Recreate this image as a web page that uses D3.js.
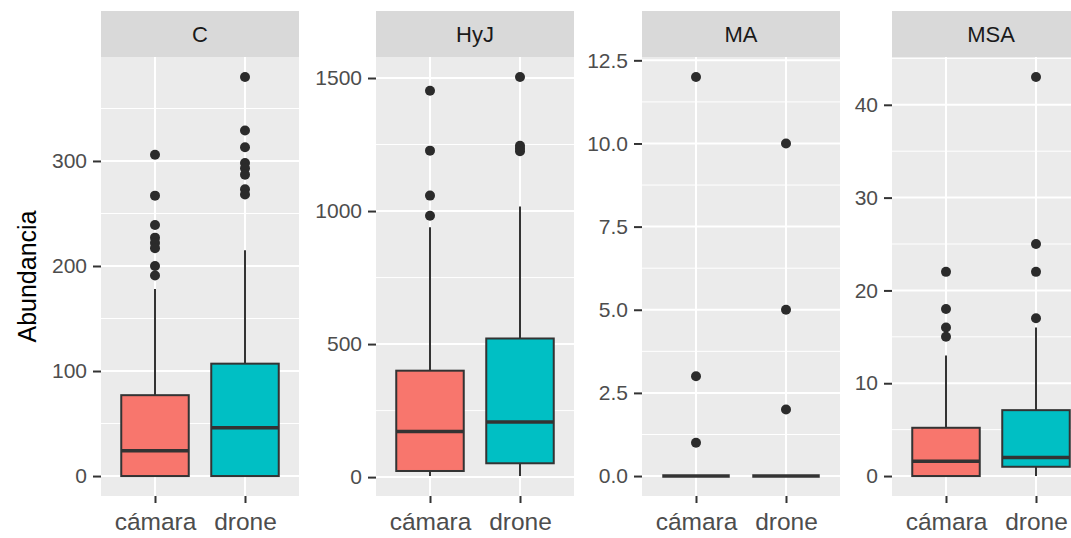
<!DOCTYPE html>
<html>
<head>
<meta charset="utf-8">
<script src="https://cdn.jsdelivr.net/npm/d3@7"></script>
<style>
  body { margin: 0; background: #fff; }
  text { font-family: "Liberation Sans", Arial, sans-serif; }
</style>
</head>
<body>
<div id="chart"></div>
<script>
// facets and groups
var facets = ["C", "HyJ", "MA", "MSA"];
var methods = ["cámara", "drone"];
var colors = ["#F8766D", "#00BFC4"];

// box stats per facet, [cámara, drone]
var lowerWhisker = [[0, 0], [4, 4], [0, 0], [0, 0]];
var q1 = [[0, 0], [23, 52], [0, 0], [0, 1]];
var median = [[24, 46], [171, 207], [0, 0], [1.6, 2]];
var q3 = [[77, 107], [400, 521], [0, 0], [5.2, 7.1]];
var upperWhisker = [[178, 215], [939, 1017], [0, 0], [13, 16]];
var outliers = [
  [[306, 267, 239, 227, 222, 217, 200, 191], [380, 329, 313, 298, 293, 287, 273, 268]],
  [[1452, 1227, 1058, 982], [1504, 1245, 1235, 1225]],
  [[12, 3, 1], [10, 5, 2]],
  [[22, 18, 16, 15], [43, 25, 22, 17]]
];

// axis ticks
var yTicks = [[0, 100, 200, 300], [0, 500, 1000, 1500], [0, 2.5, 5, 7.5, 10, 12.5], [0, 10, 20, 30, 40]];
var tickFormats = ["d", "d", ".1f", "d"];

// layout
var width = 1071, height = 538;
var panelX = [101, 376, 642, 892];
var panelW = 198;
var stripTop = 11, panelTop = 57, panelBottom = 496;

var svg = d3.select("#chart")
    .append("svg")
    .attr("width", width)
    .attr("height", height);

svg.append("rect").attr("width", width).attr("height", height).attr("fill", "#fff");

facets.forEach(function(f, i) {
  var g = svg.append("g").attr("transform", "translate(" + panelX[i] + ",0)");

  var vals = [];
  methods.forEach(function(m, j) {
    vals.push(lowerWhisker[i][j], upperWhisker[i][j]);
    vals = vals.concat(outliers[i][j]);
  });
  var lo = d3.min(vals), hi = d3.max(vals), pad = (hi - lo) * 0.05;

  var y = d3.scaleLinear().domain([lo - pad, hi + pad]).range([panelBottom, panelTop]);
  var x = d3.scalePoint().domain(methods).range([0, panelW]).padding(0.6);
  var bw = x.step() * 0.75;

  // panel background
  g.append("rect")
      .attr("x", 0).attr("y", panelTop)
      .attr("width", panelW).attr("height", panelBottom - panelTop)
      .attr("fill", "#EBEBEB");

  // minor grid, halfway between breaks
  var t = yTicks[i], step = t[1] - t[0];
  var ext = [t[0] - step].concat(t, [t[t.length - 1] + step]);
  var minor = d3.pairs(ext).map(function(p) { return (p[0] + p[1]) / 2; })
      .filter(function(v) { return v >= y.domain()[0] && v <= y.domain()[1]; });

  g.selectAll(".minor").data(minor).enter().append("line")
      .attr("x1", 0).attr("x2", panelW)
      .attr("y1", function(d) { return y(d); }).attr("y2", function(d) { return y(d); })
      .attr("stroke", "#fff").attr("stroke-width", 1);

  g.selectAll(".major").data(t).enter().append("line")
      .attr("x1", 0).attr("x2", panelW)
      .attr("y1", function(d) { return y(d); }).attr("y2", function(d) { return y(d); })
      .attr("stroke", "#fff").attr("stroke-width", 2);

  g.selectAll(".vgrid").data(methods).enter().append("line")
      .attr("x1", function(d) { return x(d); }).attr("x2", function(d) { return x(d); })
      .attr("y1", panelTop).attr("y2", panelBottom)
      .attr("stroke", "#fff").attr("stroke-width", 2);

  // strip
  g.append("rect")
      .attr("x", 0).attr("y", stripTop)
      .attr("width", panelW).attr("height", panelTop - stripTop)
      .attr("fill", "#D9D9D9");
  g.append("text")
      .attr("x", panelW / 2).attr("y", (stripTop + panelTop) / 2)
      .attr("text-anchor", "middle").attr("dominant-baseline", "central")
      .attr("font-size", "22px").attr("fill", "#1A1A1A")
      .text(f);

  // boxes
  methods.forEach(function(m, j) {
    var cx = x(m);
    var box = g.append("g");
    box.append("line")
        .attr("x1", cx).attr("x2", cx)
        .attr("y1", y(q3[i][j])).attr("y2", y(upperWhisker[i][j]))
        .attr("stroke", "#333").attr("stroke-width", 2);
    box.append("line")
        .attr("x1", cx).attr("x2", cx)
        .attr("y1", y(q1[i][j])).attr("y2", y(lowerWhisker[i][j]))
        .attr("stroke", "#333").attr("stroke-width", 2);
    box.append("rect")
        .attr("x", cx - bw / 2).attr("y", y(q3[i][j]))
        .attr("width", bw).attr("height", y(q1[i][j]) - y(q3[i][j]))
        .attr("fill", colors[j]).attr("stroke", "#333").attr("stroke-width", 2);
    box.append("line")
        .attr("x1", cx - bw / 2).attr("x2", cx + bw / 2)
        .attr("y1", y(median[i][j])).attr("y2", y(median[i][j]))
        .attr("stroke", "#333").attr("stroke-width", 3.5);
    box.selectAll("circle").data(outliers[i][j]).enter().append("circle")
        .attr("cx", cx).attr("cy", function(d) { return y(d); })
        .attr("r", 5).attr("fill", "#2b2b2b");
  });

  // y axis
  var ya = g.append("g")
      .call(d3.axisLeft(y).tickValues(t).tickSize(8).tickPadding(6).tickFormat(d3.format(tickFormats[i])));
  ya.select(".domain").remove();
  ya.selectAll(".tick line").attr("stroke", "#333").attr("stroke-width", 2);
  ya.selectAll(".tick text").attr("fill", "#4D4D4D").attr("font-size", "21px")
      .attr("font-family", "Liberation Sans, Arial, sans-serif");

  // x axis
  var xa = g.append("g")
      .attr("transform", "translate(0," + panelBottom + ")")
      .call(d3.axisBottom(x).tickSize(7).tickPadding(10));
  xa.select(".domain").remove();
  xa.selectAll(".tick line").attr("stroke", "#333").attr("stroke-width", 2);
  xa.selectAll(".tick text").attr("fill", "#4D4D4D").attr("font-size", "24.5px")
      .attr("font-family", "Liberation Sans, Arial, sans-serif");
});

// y title
svg.append("text")
    .attr("transform", "translate(27," + (panelTop + panelBottom) / 2 + ") rotate(-90)")
    .attr("text-anchor", "middle").attr("dominant-baseline", "central")
    .attr("font-size", "25px").attr("fill", "#000")
    .text("Abundancia");
</script>
</body>
</html>
